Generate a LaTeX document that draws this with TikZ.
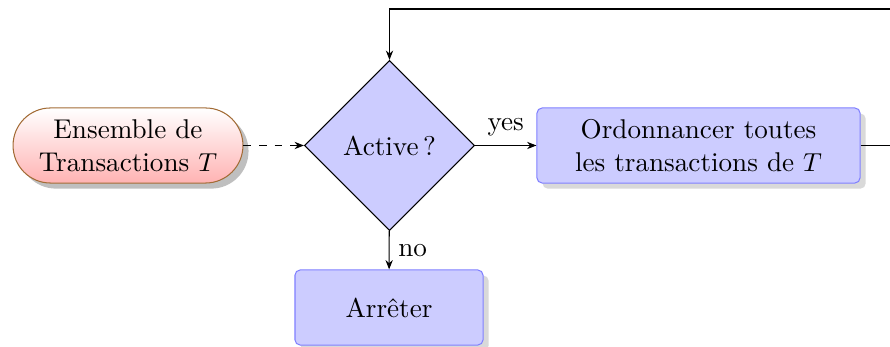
\documentclass[tikz,border=0pt]{standalone}
\usetikzlibrary{shapes.geometric,shadows,arrows.meta}
\begin{document}
\begin{tikzpicture}[x=0.385pt,y=-0.385pt,
  every node/.style={font=\fontsize{10.45}{12.6}\selectfont},
  >={Stealth[length=3.6pt,width=2.8pt]},
  startbox/.style={draw=brown!85!black, rounded corners=14.4pt,
    top color=white, bottom color=red!30,
    minimum width=88.5pt, minimum height=28.9pt, inner sep=2pt,
    align=center, drop shadow},
  decision/.style={diamond, draw, fill=blue!20, aspect=1,
    minimum width=65.5pt, minimum height=65.5pt, inner sep=0pt},
  taskbox/.style={draw=blue!50, fill=blue!20, rounded corners=2pt,
    minimum height=28.9pt, inner sep=2pt, align=center,
    drop shadow={opacity=0.3}},
  flow/.style={->}]
  \clip (0,0) rectangle (890,347);

  \node[startbox] (start) at (128,145.5) {Ensemble de\\Transactions $T$};
  \node[decision] (active) at (389.5,145.5) {Active\,?};
  \node[taskbox, minimum width=124.4pt] (sched) at (698.5,145.5)
    {Ordonnancer toutes\\les transactions de $T$};
  \node[taskbox, minimum width=72.4pt] (stop) at (389,307.5) {Arrêter};

  \coordinate (loopright) at (915,145.5);
  \coordinate (looptop) at (915,9);

  \draw[flow, dashed] (start) -- (active);
  \draw[flow] (active) -- node[above] {yes} (sched);
  \draw[flow] (active) -- node[right] {no} (stop);
  \draw[flow] (sched.east) -- (loopright) -- (looptop) -| (active.north);
\end{tikzpicture}
\end{document}
